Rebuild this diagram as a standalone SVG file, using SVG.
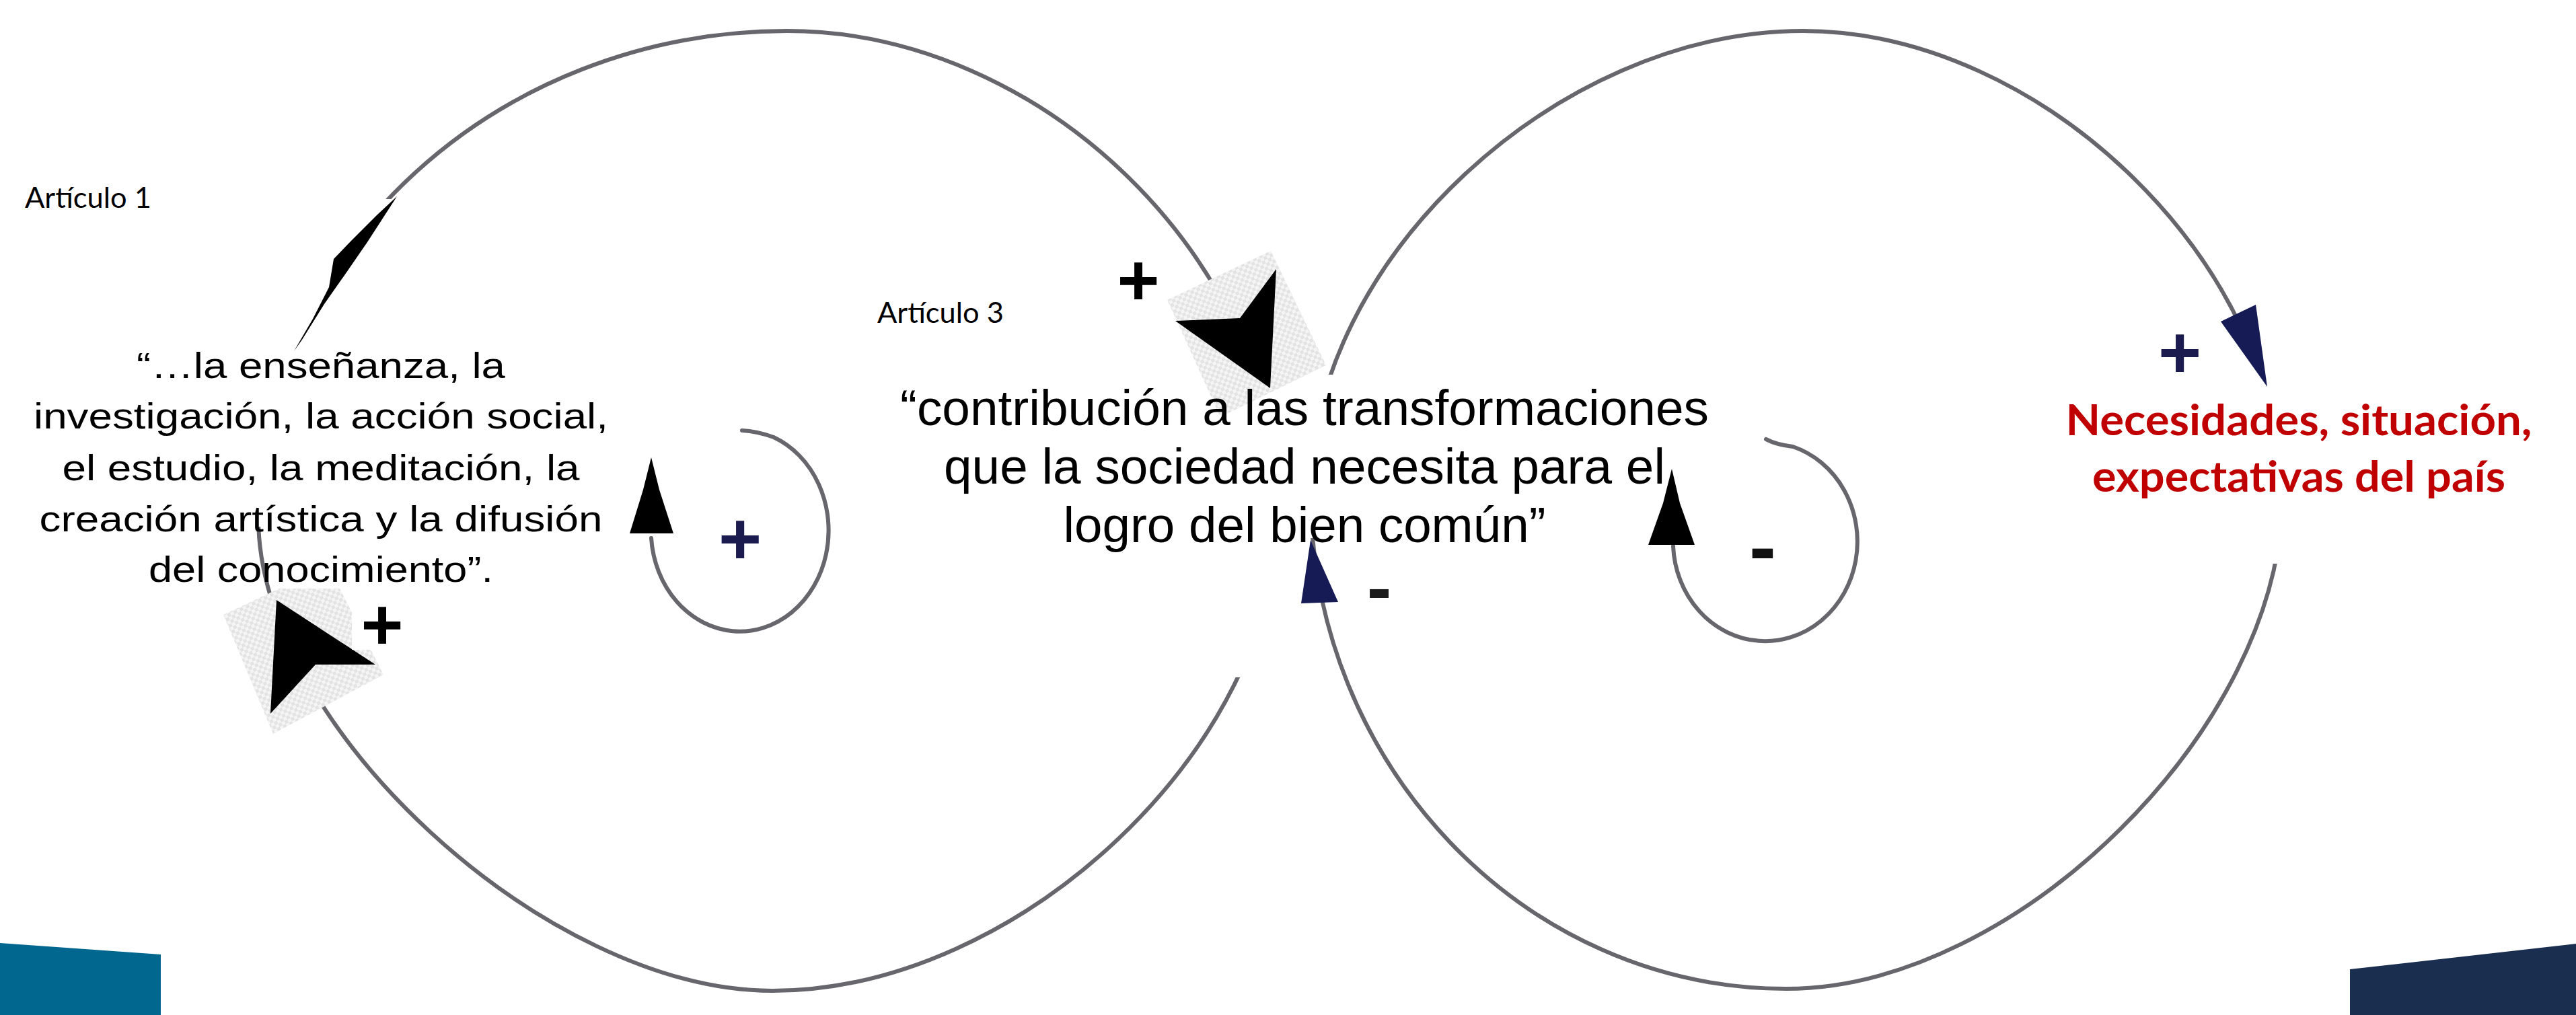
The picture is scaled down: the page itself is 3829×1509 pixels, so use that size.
<svg xmlns="http://www.w3.org/2000/svg" width="3829" height="1509" viewBox="0 0 3829 1509">
<style>
.loop{fill:none;stroke:#66666c;stroke-width:6;stroke-linecap:round}
.quote{font-family:"Liberation Sans",Arial,sans-serif;fill:#000;text-anchor:middle}
.label{font-family:Lato,"Open Sans",sans-serif;fill:#000}
.red{font-family:Lato,"Open Sans",sans-serif;font-weight:bold;fill:#C00000;text-anchor:middle}
.sign{font-family:"Liberation Sans",Arial,sans-serif;font-weight:bold;text-anchor:middle}
.navy{fill:#1b1b50}
.head{fill:#000}
.bhead{fill:#161a55}
</style>
<defs>
<pattern id="chk" width="10" height="10" patternUnits="userSpaceOnUse" patternTransform="rotate(-25)">
<rect width="10" height="10" fill="#f5f5f5"/>
<rect width="5" height="5" fill="#e3e3e3"/>
<rect x="5" y="5" width="5" height="5" fill="#e3e3e3"/>
</pattern>
<mask id="mL" maskUnits="userSpaceOnUse" x="0" y="0" width="3829" height="1509">
<rect width="3829" height="1509" fill="#fff"/>
<rect x="250" y="296" width="450" height="487" fill="#000"/>
<rect x="1780" y="560" width="155" height="447" fill="#000"/>
</mask>
<mask id="mR" maskUnits="userSpaceOnUse" x="0" y="0" width="3829" height="1509">
<rect width="3829" height="1509" fill="#fff"/>
<rect x="1900" y="557" width="120" height="243" fill="#000"/>
<rect x="3280" y="540" width="180" height="298" fill="#000"/>
</mask>
</defs>
<rect width="3829" height="1509" fill="#fff"/>

<g id="decor">
<polygon points="0,1402 239,1419 239,1509 0,1509" fill="#02678f"/>
<polygon points="3493,1441 3829,1403 3829,1509 3493,1509" fill="#1a2e50"/>
</g>

<g id="connectors">
<path id="loop-left" class="loop" mask="url(#mL)" d="M384,770 C384,372 738,46 1170,46 C1550,46 1900,389 1900,760 C1900,1109 1516,1473 1148,1473 C812,1473 384,1079 384,770 Z"/>
<path id="loop-right" class="loop" mask="url(#mR)" d="M1948,730 C1948,388 2314,46 2680,46 C3036,46 3392,393 3392,740 C3392,1079 2998,1470 2655,1470 C2266,1470 1948,1137 1948,730 Z"/>
<path id="loop-small-left" class="loop" d="M1103,640 Q1125,641 1150,650 A132 150 0 1 1 968,800"/>
<path id="loop-small-right" class="loop" d="M2625,653 Q2640,661 2665,664 A137 148 0 1 1 2487,812"/>
<polygon class="head" points="968,680 980,728 1001,793 936,793 956,728"/>
<polygon class="head" points="2485,697 2497,748 2519,810 2450,810 2472,748"/>
<polygon class="bhead" points="3301,478 3353,453 3370,575"/>
<polygon class="bhead" points="1948,803 1989,895 1934,897"/>
<polygon id="callout-spike" class="head" points="590,292 546,360 515,405 482,452 449,505 437,522 465,474 489,427 496,385 522,358 560,320"/>
<polygon fill="url(#chk)" points="1735,446 1889,373 1971,543 1814,620"/>
<polygon class="head" points="1897,400 1888,577 1747,477 1843,473"/>
<polygon fill="url(#chk)" points="332,914 415,875 505,875 570,1003 406,1091"/>
<polygon class="head" points="411,892 558,988 469,988 402,1061"/>
</g>

<g id="node-articulo1">
<text class="label" x="37" y="309" font-size="42" textLength="188" lengthAdjust="spacingAndGlyphs">Artículo 1</text>
</g>

<g id="node-quote1">
<text class="quote" font-size="54" x="477" y="562" textLength="548" lengthAdjust="spacingAndGlyphs">“…la enseñanza, la</text>
<text class="quote" font-size="54" x="477" y="637" textLength="854" lengthAdjust="spacingAndGlyphs">investigación, la acción social,</text>
<text class="quote" font-size="54" x="477" y="714" textLength="769" lengthAdjust="spacingAndGlyphs">el estudio, la meditación, la</text>
<text class="quote" font-size="54" x="477" y="790" textLength="837" lengthAdjust="spacingAndGlyphs">creación artística y la difusión</text>
<text class="quote" font-size="54" x="477" y="865" textLength="512" lengthAdjust="spacingAndGlyphs">del conocimiento”.</text>
</g>

<g id="node-plus-left">
<rect x="523" y="886" width="90" height="80" fill="#fff"/>
<text class="sign" x="568" y="965" font-size="108" fill="#000">+</text>
</g>

<g id="node-articulo3">
<text class="label" x="1304" y="480" font-size="42" textLength="188" lengthAdjust="spacingAndGlyphs">Artículo 3</text>
</g>

<g id="node-plus-mid">
<text class="sign" x="1692" y="453" font-size="108" fill="#000">+</text>
</g>

<g id="node-quote3">
<text class="quote" font-size="75" x="1939" y="632" textLength="1202" lengthAdjust="spacingAndGlyphs">“contribución a las transformaciones</text>
<text class="quote" font-size="75" x="1939" y="719" textLength="1072" lengthAdjust="spacingAndGlyphs">que la sociedad necesita para el</text>
<text class="quote" font-size="75" x="1939" y="806" textLength="717" lengthAdjust="spacingAndGlyphs">logro del bien común”</text>
</g>

<g id="node-minus-mid">
<text class="sign" x="2050" y="911" font-size="110" fill="#1a1a1a">-</text>
</g>

<g id="node-loop-left-sign">
<text class="sign navy" x="1100" y="839" font-size="110">+</text>
</g>

<g id="node-loop-right-sign">
<text class="sign" x="2620" y="854" font-size="120" fill="#111">-</text>
</g>

<g id="node-plus-right">
<text class="sign navy" x="3240" y="562" font-size="110">+</text>
</g>

<g id="node-necesidades">
<text class="red" font-size="64" x="3417" y="647" textLength="693" lengthAdjust="spacingAndGlyphs">Necesidades, situación,</text>
<text class="red" font-size="64" x="3417" y="731" textLength="614" lengthAdjust="spacingAndGlyphs">expectativas del país</text>
</g>
</svg>
